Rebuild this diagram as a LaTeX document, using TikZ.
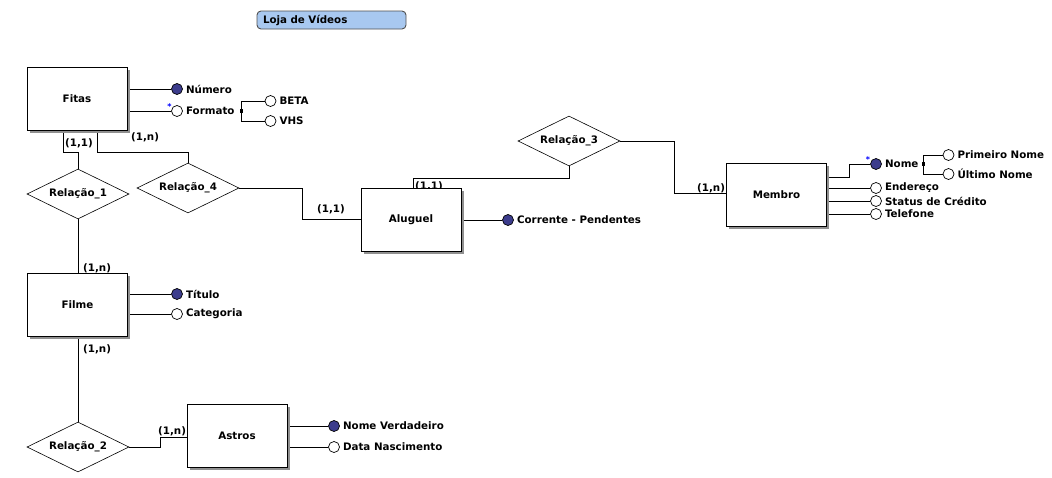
\documentclass[tikz,border=0pt]{standalone}
\usepackage{fontspec}
\setmainfont{DejaVu Sans}
\usetikzlibrary{shapes.geometric,backgrounds,shadows}
\definecolor{keyblue}{HTML}{3C3C8C}
\definecolor{shadowgray}{HTML}{909090}
\definecolor{titlefill}{HTML}{A8C8F0}
\definecolor{titleborder}{HTML}{505050}
\begin{document}
\begin{tikzpicture}[x=1pt,y=-1pt,
  every node/.style={font=\fontsize{10.3}{12}\selectfont\bfseries},
  conn/.style={line width=0.9pt},
  entity/.style={draw, fill=white, line width=0.9pt, minimum width=100pt, minimum height=63pt, inner sep=0pt,
     drop shadow={shadow xshift=2.5pt, shadow yshift=-2.5pt, fill=shadowgray, opacity=1}},
  relation/.style={draw, fill=white, diamond, aspect=2, line width=0.6pt, minimum width=102pt, minimum height=50pt, inner sep=0pt},
  attr/.style={circle, draw, line width=0.7pt, minimum size=11pt, inner sep=0pt, fill=white},
  keyattr/.style={attr, fill=keyblue},
  lbl/.style={inner sep=0pt, xshift=3pt},
  card/.style={inner sep=0pt, anchor=west},
  sq/.style={fill=black, minimum size=3.5pt, inner sep=0pt},
  star/.style={text=blue, inner sep=0pt, font=\fontsize{8}{8}\selectfont\bfseries},
  titlebox/.style={draw=titleborder, line width=0.9pt, fill=titlefill, rounded corners=4pt, text width=137pt, inner xsep=6pt, minimum height=18pt, align=left}
]
\useasboundingbox (0,0) rectangle (1052,477);

% title
\node[titlebox] (title) at (331.5,20) {Loja de Vídeos};

% entities
\node[entity] (fitas) at (77,98.5) {Fitas};
\node[entity] (filme) at (77.5,304.5) {Filme};
\node[entity] (aluguel) at (411,219.5) {Aluguel};
\node[entity] (membro) at (776.5,195) {Membro};
\node[entity] (astros) at (237,435.5) {Astros};

% relations
\node[relation] (rel1) at (78,194) {Relação\_1};
\node[relation] (rel4) at (188,188) {Relação\_4};
\node[relation] (rel3) at (569,141) {Relação\_3};
\node[relation] (rel2) at (78,447) {Relação\_2};

% attributes of Fitas
\node[keyattr, label={[lbl]right:Número}] (num) at (177,89) {};
\node[attr, label={[lbl]right:Formato}] (fmt) at (177,111) {};
\node[star] (fmtstar) at (169.5,106.5) {*};
\node[sq] (fsq) at (241.5,111) {};
\node[attr, label={[lbl]right:BETA}] (beta) at (270.5,101) {};
\node[attr, label={[lbl]right:VHS}] (vhs) at (270.5,121) {};

% attributes of Filme
\node[keyattr, label={[lbl]right:Título}] (tit) at (177,294) {};
\node[attr, label={[lbl]right:Categoria}] (cat) at (177,314) {};

% attribute of Aluguel
\node[keyattr, label={[lbl]right:Corrente - Pendentes}] (corr) at (508,220) {};

% attributes of Astros
\node[keyattr, label={[lbl]right:Nome Verdadeiro}] (nver) at (334,426) {};
\node[attr, label={[lbl]right:Data Nascimento}] (dnasc) at (334,447) {};

% attributes of Membro
\node[keyattr, label={[lbl]right:Nome}] (nome) at (876,164) {};
\node[star] (nomestar) at (868,159.5) {*};
\node[sq] (nsq) at (923.5,164) {};
\node[attr, label={[lbl]right:Primeiro Nome}] (pnome) at (948.5,155) {};
\node[attr, label={[lbl]right:Último Nome}] (unome) at (948.5,174) {};
\node[attr, label={[lbl]right:Endereço}] (end) at (876,188) {};
\node[attr, label={[lbl]right:Status de Crédito}] (stat) at (876,201) {};
\node[attr, label={[lbl]right:Telefone}] (tel) at (876,214) {};

\begin{pgfonlayer}{background}
% relationship connectors
\draw[conn] ([xshift=-14pt]fitas.south) -- ++(0,22) -| (rel1.north);
\node[card] (c1) at (65,143) {(1,1)};
\draw[conn] ([xshift=20pt]fitas.south) -- ++(0,22) -| (rel4.north);
\node[card] (c2) at (131,137) {(1,n)};
\draw[conn] (rel4.east) -- ++(63,0) |- (aluguel.west);
\node[card] (c3) at (317,209) {(1,1)};
\draw[conn] (rel3.south) -- ++(0,12) -| ([xshift=2pt]aluguel.north);
\node[card] (c4) at (415,186) {(1,1)};
\draw[conn] (rel3.east) -- ++(54,0) |- ([yshift=2pt]membro.west);
\node[card] (c5) at (697,188) {(1,n)};
\draw[conn] (rel1.south) -- (rel1.south |- filme.north);
\node[card] (c6) at (83,268) {(1,n)};
\draw[conn] (rel2.north |- filme.south) -- (rel2.north);
\node[card] (c7) at (83,349) {(1,n)};
\draw[conn] (rel2.east) -- ++(31,0) |- ([yshift=-1.5pt]astros.west);
\node[card] (c8) at (158,431) {(1,n)};

% attribute connectors
\draw[conn] (fitas.east |- num) -- (num.west);
\draw[conn] (fitas.east |- fmt) -- (fmt.west);
\draw[conn] (fsq.center) |- (beta.west);
\draw[conn] (fsq.center) |- (vhs.west);
\draw[conn] (filme.east |- tit) -- (tit.west);
\draw[conn] (filme.east |- cat) -- (cat.west);
\draw[conn] (aluguel.east |- corr) -- (corr.west);
\draw[conn] (astros.east |- nver) -- (nver.west);
\draw[conn] (astros.east |- dnasc) -- (dnasc.west);
\draw[conn] ([yshift=18pt]membro.east) -- ++(22,0) |- (nome.west);
\draw[conn] (nsq.center) |- (pnome.west);
\draw[conn] (nsq.center) |- (unome.west);
\draw[conn] (membro.east |- end) -- (end.west);
\draw[conn] (membro.east |- stat) -- (stat.west);
\draw[conn] (membro.east |- tel) -- (tel.west);
\end{pgfonlayer}
\end{tikzpicture}
\end{document}
